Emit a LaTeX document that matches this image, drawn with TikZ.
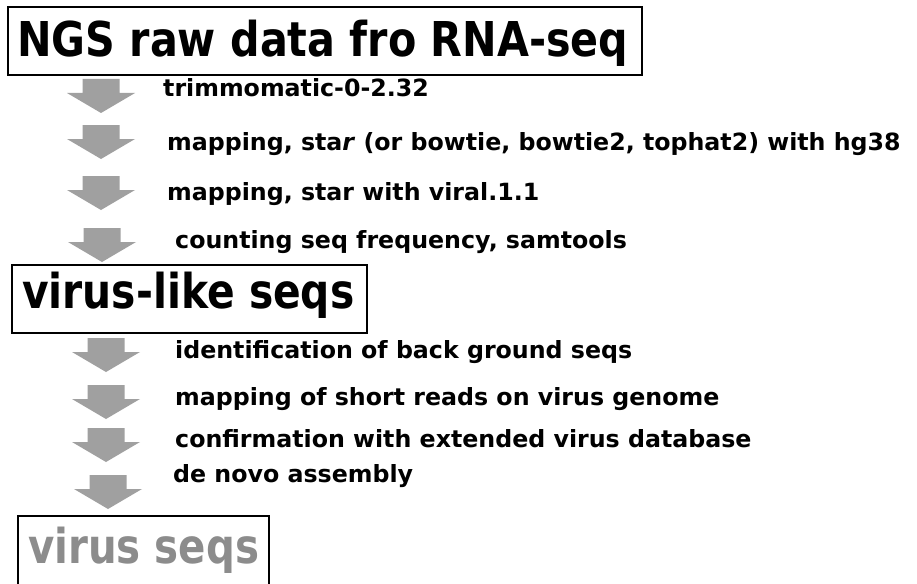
\documentclass[tikz,border=0pt]{standalone}
\usepackage{fontspec}
\usepackage{graphicx}
\setmainfont{DejaVu Sans}
\begin{document}
\begin{tikzpicture}[x=1pt,y=-1pt,
  box/.style={draw=black,line width=1.1pt},
  title/.style={font=\fontsize{48}{50}\selectfont\bfseries,anchor=base west,inner sep=0pt},
  steptext/.style={font=\fontsize{23.7}{26}\selectfont\bfseries,anchor=base west,inner sep=0pt},
  blockarr/.style={fill={rgb,255:red,160;green,160;blue,160}}]
\clip (0,0) rectangle (917,583);
\fill[white] (0,0) rectangle (917,583);
% boxes
\draw[box] (8,7) rectangle (642,75);
\node[title] (t1) at (17,57) {\scalebox{0.86}[1]{NGS raw data fro RNA-seq}};
\draw[box] (12,265) rectangle (367,333);
\node[title] (t2) at (22,308) {\scalebox{0.85}[1]{virus-like seqs}};
\draw[box] (18,516) rectangle (269,600);
\node[title,text={rgb,255:red,140;green,140;blue,140}] (t3) at (28,563) {\scalebox{0.84}[1]{virus seqs}};
% arrows: cx, top
\foreach \cx/\ty in {101/79,101/125,101/176,102/228,106/338,106/385,106/428,108/475}{
  \fill[blockarr] (\cx-18.5,\ty) -- (\cx+18.5,\ty) -- (\cx+18.5,\ty+14) -- (\cx+34,\ty+14)
     -- (\cx,\ty+34) -- (\cx-34,\ty+14) -- (\cx-18.5,\ty+14) -- cycle;
}
% texts
\node[steptext] (s1) at (163,97) {trimmomatic-0-2.32};
\node[steptext] (s2) at (167,150) {mapping, sta\textit{r} (or bowtie, bowtie2, tophat2) with hg38};
\node[steptext] (s3) at (167,200) {mapping, star with viral.1.1};
\node[steptext] (s4) at (175,248) {counting seq frequency, samtools};
\node[steptext] (s5) at (175,358) {identification of back ground seqs};
\node[steptext] (s6) at (175,405) {mapping of short reads on virus genome};
\node[steptext] (s7) at (175,447) {confirmation with extended virus database};
\node[steptext] (s8) at (173,482) {de novo assembly};
\end{tikzpicture}
\end{document}
